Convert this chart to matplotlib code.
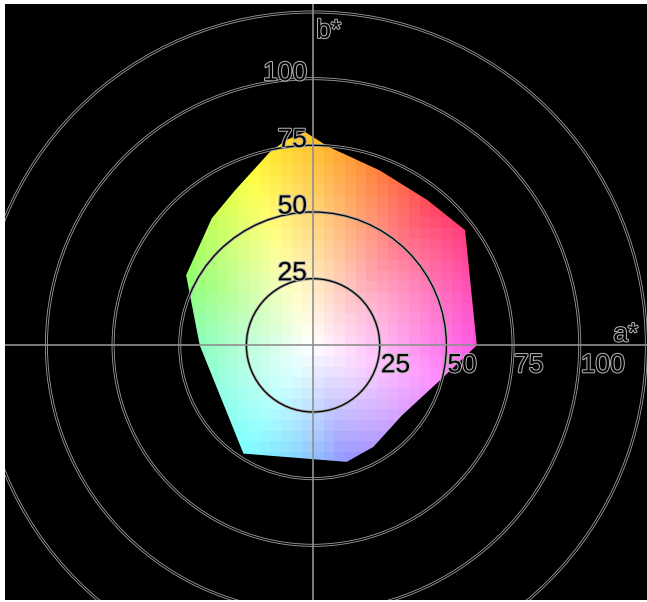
import numpy as np
import matplotlib
matplotlib.use("Agg")
import matplotlib.pyplot as plt
from matplotlib.patches import Polygon, Circle
import matplotlib.patheffects as pe

# gamut outline (a*, b*)
gamut_a = [-3, 5.7, 25, 43, 57, 61.4, 47.6, 33.3, 22.6, 12.6, -26.1, -42.5, -47.6, -38, -29.2, -16.1, -10]
gamut_b = [80, 74.5, 65.6, 54.4, 43.2, 0, -13.1, -26.3, -38.1, -43.7, -40.6, 0, 26.3, 47.6, 58.2, 72.6, 77]

ring_radii = [25, 50, 75, 100, 125]
b_labels = [25, 50, 75, 100]
a_labels = [25, 50, 75, 100]

# hue anchors (degrees) -> saturated display colour
hue_deg = [0, 25, 50, 70, 90, 110, 150, 180, 210, 237, 260, 286, 320, 345, 360]
hue_rgb = [(255, 0, 215), (255, 0, 130), (255, 10, 40), (255, 90, 0), (255, 180, 0),
           (255, 255, 0), (70, 255, 0), (0, 255, 110), (0, 255, 200), (0, 255, 255),
           (0, 175, 255), (40, 40, 255), (160, 50, 255), (255, 40, 255), (255, 0, 215)]

fig = plt.figure(figsize=(6.47, 6.02), dpi=100, facecolor="white")
ax = fig.add_axes([5 / 647, 2 / 602, 642 / 647, 596 / 602])
ax.set_facecolor("black")
ax.set_xlim(-115.5, 125.2)
ax.set_ylim(-95.5, 128)
ax.set_aspect("equal", adjustable="box")
ax.set_xticks([])
ax.set_yticks([])
for s in ax.spines.values():
    s.set_visible(False)

# pixelated colour field
step = 4
edges = np.arange(-128, 132, step)
cent = edges[:-1] + step / 2
A, B = np.meshgrid(cent, cent)
C = np.hypot(A, B)
H = np.degrees(np.arctan2(B, A)) % 360
hr = np.array(hue_rgb) / 255.0
pure = np.stack([np.interp(H, hue_deg, hr[:, k]) for k in range(3)], axis=-1)
sat = np.clip(C / 92.0, 0, 1)[..., None]
rgb = 1 - sat * (1 - pure)

poly = Polygon(np.column_stack([gamut_a, gamut_b]), closed=True,
               facecolor="none", edgecolor="none")
ax.add_patch(poly)
im = ax.imshow(rgb, extent=(edges[0], edges[-1], edges[0], edges[-1]),
               origin="lower", interpolation="nearest", zorder=1)
im.set_clip_path(poly)

# rings
ring_fx = [pe.Stroke(linewidth=2.1, foreground="#a0a0a0"), pe.Normal()]
for r in ring_radii:
    c = Circle((0, 0), r, fill=False, edgecolor="black", linewidth=0.9, zorder=3)
    c.set_path_effects(ring_fx)
    ax.add_patch(c)

# axes lines
ax.axhline(0, color="#909090", lw=1.2, zorder=4)
ax.axvline(0, color="#909090", lw=1.2, zorder=4)

txt_fx = [pe.withStroke(linewidth=1.5, foreground="#b0b0b0")]
fs = 19
for v in b_labels:
    ax.text(-2.3, v - 0.6, str(v), ha="right", va="baseline", fontsize=fs,
            color="black", family="Liberation Sans", path_effects=txt_fx, zorder=5)
for v in a_labels:
    ax.text(v + 0.4, -10.1, str(v), ha="left", va="baseline", fontsize=fs,
            color="black", family="Liberation Sans", path_effects=txt_fx, zorder=5)
ax.text(122, 1.5, "a*", ha="right", va="baseline", fontsize=fs, color="black",
        family="Liberation Sans", path_effects=txt_fx, zorder=5)
ax.text(1.2, 115.3, "b*", ha="left", va="baseline", fontsize=fs, color="black",
        family="Liberation Sans", path_effects=txt_fx, zorder=5)

fig.savefig("out.png", dpi=100, facecolor="white")
